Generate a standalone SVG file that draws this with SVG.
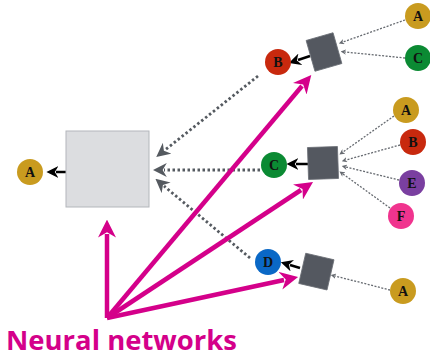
<svg xmlns="http://www.w3.org/2000/svg" width="430" height="357" viewBox="0 0 430 357">
<defs>
<style>
.lbl{font-family:"Liberation Serif","DejaVu Serif",serif;font-weight:bold;font-size:14px;text-anchor:middle;dominant-baseline:central;fill:#111}
.dot{fill:none;stroke:#666a70;stroke-width:1.3;stroke-dasharray:2 1.5}
.dotb{fill:none;stroke:#555a60;stroke-width:2.8;stroke-dasharray:2.5 2.5}
.blk{fill:none;stroke:#000;stroke-width:2.5}
.mag{fill:none;stroke:#d4008a;stroke-width:4.5}
.sq{fill:#545860;stroke:#6a6e75;stroke-width:0.8}
</style>
<marker id="agb" viewBox="0 0 10 10" refX="2" refY="5" markerWidth="5.5" markerHeight="5.5" markerUnits="userSpaceOnUse" orient="auto"><path d="M0,0 L10,5 L0,10 L3,5 Z" fill="#666a70"/></marker>
<marker id="agB" viewBox="0 0 10 10" refX="2" refY="5" markerWidth="14" markerHeight="14" markerUnits="userSpaceOnUse" orient="auto"><path d="M0,0 L10,5 L0,10 L3,5 Z" fill="#555a60"/></marker>
<marker id="ak" viewBox="0 0 10 10" refX="2" refY="5" markerWidth="12" markerHeight="12" markerUnits="userSpaceOnUse" orient="auto"><path d="M0,0 L10,5 L0,10 L3,5 Z" fill="#000"/></marker>
<marker id="am" viewBox="0 0 10 10" refX="2" refY="5" markerWidth="18" markerHeight="18" markerUnits="userSpaceOnUse" orient="auto"><path d="M0,0 L10,5 L0,10 L3,5 Z" fill="#d4008a"/></marker>
</defs>
<rect width="430" height="357" fill="#fff"/>
<g id="connectors">
<path class="dotb" d="M258,76 L165,150" marker-end="url(#agB)"/>
<path class="dotb" d="M260,170 L164,170" marker-end="url(#agB)"/>
<path class="dotb" d="M250,258 L164,186" marker-end="url(#agB)"/>
<path class="dot" d="M405,20 L343,42" marker-end="url(#agb)"/>
<path class="dot" d="M405,58 L345,52" marker-end="url(#agb)"/>
<path class="dot" d="M394,116 L343,152" marker-end="url(#agb)"/>
<path class="dot" d="M400,145 L346,160" marker-end="url(#agb)"/>
<path class="dot" d="M399,180 L346,167" marker-end="url(#agb)"/>
<path class="dot" d="M390,208 L343,174" marker-end="url(#agb)"/>
<path class="dot" d="M390,290 L335,276" marker-end="url(#agb)"/>
<path class="blk" d="M310,56 L298,60" marker-end="url(#ak)"/>
<path class="blk" d="M308,164 L296,164" marker-end="url(#ak)"/>
<path class="blk" d="M300,268 L290,265" marker-end="url(#ak)"/>
<path class="blk" d="M66,172 L56,172" marker-end="url(#ak)"/>
<path class="mag" d="M107,318 L107,234" marker-end="url(#am)"/>
<path class="mag" d="M107,318 L302,86" marker-end="url(#am)"/>
<path class="mag" d="M107,318 L301,190" marker-end="url(#am)"/>
<path class="mag" d="M107,318 L284,280" marker-end="url(#am)"/>
</g>
<g id="box"><rect x="66" y="131" width="83" height="76" fill="#dcdde0" stroke="#b3b6bb" stroke-width="1"/></g>
<g id="sq1"><rect class="sq" x="310" y="36" width="28" height="32" transform="rotate(-16 324 52)"/></g>
<g id="sq2"><rect class="sq" x="308" y="147" width="30" height="32" transform="rotate(-2 323 163)"/></g>
<g id="sq3"><rect class="sq" x="302" y="256" width="29" height="31" transform="rotate(13 316 271)"/></g>
<g id="A0"><circle cx="30" cy="172" r="13" fill="#c99b1f"/><text class="lbl" x="30" y="172">A</text></g>
<g id="B1"><circle cx="278" cy="62" r="13" fill="#c8290e"/><text class="lbl" x="278" y="62">B</text></g>
<g id="A1"><circle cx="418" cy="16" r="13" fill="#c99b1f"/><text class="lbl" x="418" y="16">A</text></g>
<g id="C1"><circle cx="418" cy="58" r="13" fill="#0b8a33"/><text class="lbl" x="418" y="58">C</text></g>
<g id="C2"><circle cx="274" cy="165" r="13" fill="#0b8a33"/><text class="lbl" x="274" y="165">C</text></g>
<g id="A2"><circle cx="406" cy="110" r="13" fill="#c99b1f"/><text class="lbl" x="406" y="110">A</text></g>
<g id="B2"><circle cx="413" cy="142" r="13" fill="#c8290e"/><text class="lbl" x="413" y="142">B</text></g>
<g id="E2"><circle cx="412" cy="183" r="13" fill="#7a3fa0"/><text class="lbl" x="412" y="183">E</text></g>
<g id="F2"><circle cx="401" cy="216" r="13" fill="#f0348e"/><text class="lbl" x="401" y="216">F</text></g>
<g id="D3"><circle cx="268" cy="262" r="13" fill="#0a68c6"/><text class="lbl" x="268" y="262">D</text></g>
<g id="A3"><circle cx="403" cy="291" r="13" fill="#c99b1f"/><text class="lbl" x="403" y="291">A</text></g>
<g id="title"><text x="6" y="350" font-family="'Open Sans','Liberation Sans',sans-serif" font-weight="bold" font-size="26" fill="#d4008a" textLength="231" lengthAdjust="spacingAndGlyphs">Neural networks</text></g>
</svg>
